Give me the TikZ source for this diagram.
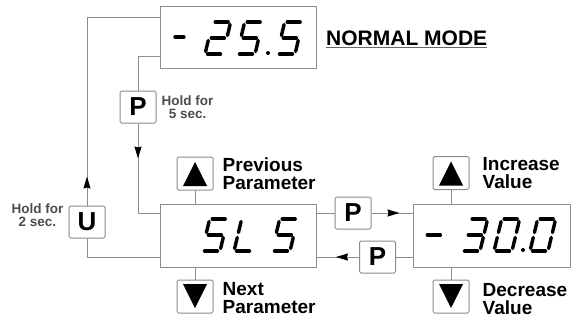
\documentclass[tikz,border=0pt]{standalone}
\usepackage{fontspec}
\setmainfont{Liberation Sans}
\usetikzlibrary{arrows.meta,positioning,decorations.markings}
\newcommand\segdigit[3]{%
  \begin{scope}[shift={(#1,#2)},y={(0pt,1pt)},xslant=0.24]
  \path (2.5,32) coordinate (a-s) (15.5,32) coordinate (a-e)
  (18,29.5) coordinate (b-s) (18,18.5) coordinate (b-e)
  (18,13.5) coordinate (c-s) (18,2.5) coordinate (c-e)
  (2.5,0) coordinate (d-s) (15.5,0) coordinate (d-e)
  (0,2.5) coordinate (e-s) (0,13.5) coordinate (e-e)
  (0,18.5) coordinate (f-s) (0,29.5) coordinate (f-e)
  (2.5,16) coordinate (g-s) (15.5,16) coordinate (g-e);
  \foreach \s in {#3} \draw[seg] (\s-s) -- (\s-e);
  \end{scope}}
\begin{document}
\begin{tikzpicture}[x=1pt, y=-1pt, line join=round,
	>={Stealth[length=12pt,width=7pt,inset=1pt,color=black]},
	disp/.style={draw=black!45, line width=1pt, minimum width=156pt,
		minimum height=63pt, inner sep=0pt},
	key/.style={draw=black!45, line width=1pt, rounded corners=1.5pt,
		minimum width=36pt, minimum height=32pt, inner sep=0pt,
		font=\fontsize{26}{26}\selectfont\bfseries},
	wire/.style={draw=black!45, line width=1pt},
	arrowat/.style={postaction=decorate, decoration={markings,
		mark=at position #1 with {\arrow{>}}}},
	seg/.style={line width=3.4pt, line cap=round},
	lbl/.style={font=\fontsize{19}{18}\selectfont\bfseries, align=left,
		inner sep=0pt},
	hold/.style={font=\fontsize{13.5}{13}\selectfont\bfseries,
		text=black!70, align=center, inner sep=0pt}]
	\useasboundingbox (0,0) rectangle (583,322);
	\node[disp, minimum height=62pt] (top) at (238,37) {};
	\node[disp] (sls) at (238,235.5) {};
	\node[disp, minimum width=157pt] (val) at (491.5,235.5) {};
	\node[key] (ph) at (138,107) {P};
	\node[key] (ub) at (87,222) {U};
	\node[key] (pr) at (353,213) {P};
	\node[key] (pl) at (377.5,257) {P};
	\foreach \b/\x/\y in {upp/195/173.5, dnn/195/296.5, upi/451/173, dnd/451/296.5}
	\node[key, minimum height=33pt] (\b) at (\x,\y) {};
	\foreach \b/\d in {upp/1, upi/1, dnn/-1, dnd/-1}
	\fill[shift={(\b)}] (0,-11.5*\d) -- (-12,12.5*\d) -- (12,12.5*\d) -- cycle;
	% connectors
	\draw[wire, arrowat=29pt] (ub.north) |- ([yshift=-12pt]top.north west);
	\draw[wire] (ub.south) |- ([yshift=10pt]sls.south west);
	\draw[wire] ([yshift=12pt]top.south west) -| (ph.north);
	\draw[wire, arrowat=35pt] (ph.south) |- ([yshift=-10pt]sls.north west);
	\draw[wire] (sls.east |- pr) -- (pr.west);
	\draw[wire, arrowat=28pt] (pr.east) -- (pr -| val.west);
	\draw[wire] (val.west |- pl) -- (pl.east);
	\draw[wire, arrowat=23pt] (pl.west) -- (pl -| sls.east);
	\foreach \b/\d in {upp/sls, upi/val}
	\draw[wire] (\b.south) -- (\b |- \d.north);
	\foreach \b/\d in {dnn/sls, dnd/val}
	\draw[wire] (\b.north) -- (\b |- \d.south);
	% labels
	\node[font=\fontsize{21}{21}\selectfont\bfseries, inner sep=0pt,
	anchor=base west] (nm) at (326,45) {NORMAL MODE};
	\draw[black!60, line width=0.8pt] ([yshift=-2pt]nm.base west) --
	([yshift=-2pt]nm.base east);
	\node[hold, right=5pt of ph] (h5) {Hold for\\5 sec.};
	\node[hold, left=5pt of ub, yshift=7pt] (h2) {Hold for\\2 sec.};
	\node[lbl, right=9pt of upp] (prev) {Previous\\Parameter};
	\node[lbl, right=9pt of dnn, yshift=-2pt] (next) {Next\\Parameter};
	\node[lbl, right=13pt of upi] (inc) {Increase\\Value};
	\node[lbl, right=13pt of dnd, yshift=-3pt] (dec) {Decrease\\Value};
	% display digits
	\draw[seg] (175,37) -- (184,37);
	\segdigit{205}{54}{a,b,g,e,d}
	\segdigit{237}{54}{a,f,g,c,d}
	\fill (268,53) circle (2);
	\segdigit{277}{54}{a,f,g,c,d}
	\segdigit{202}{251}{a,f,g,c,d}
	\segdigit{234}{251}{f,e,d}
	\segdigit{272}{251}{a,f,g,c,d}
	\segdigit{421}{251}{g}
	\segdigit{462}{251}{a,b,g,c,d}
	\segdigit{494}{251}{a,b,c,d,e,f}
	\fill (523,250) circle (2);
	\segdigit{530}{251}{a,b,c,d,e,f}
\end{tikzpicture}
\end{document}
